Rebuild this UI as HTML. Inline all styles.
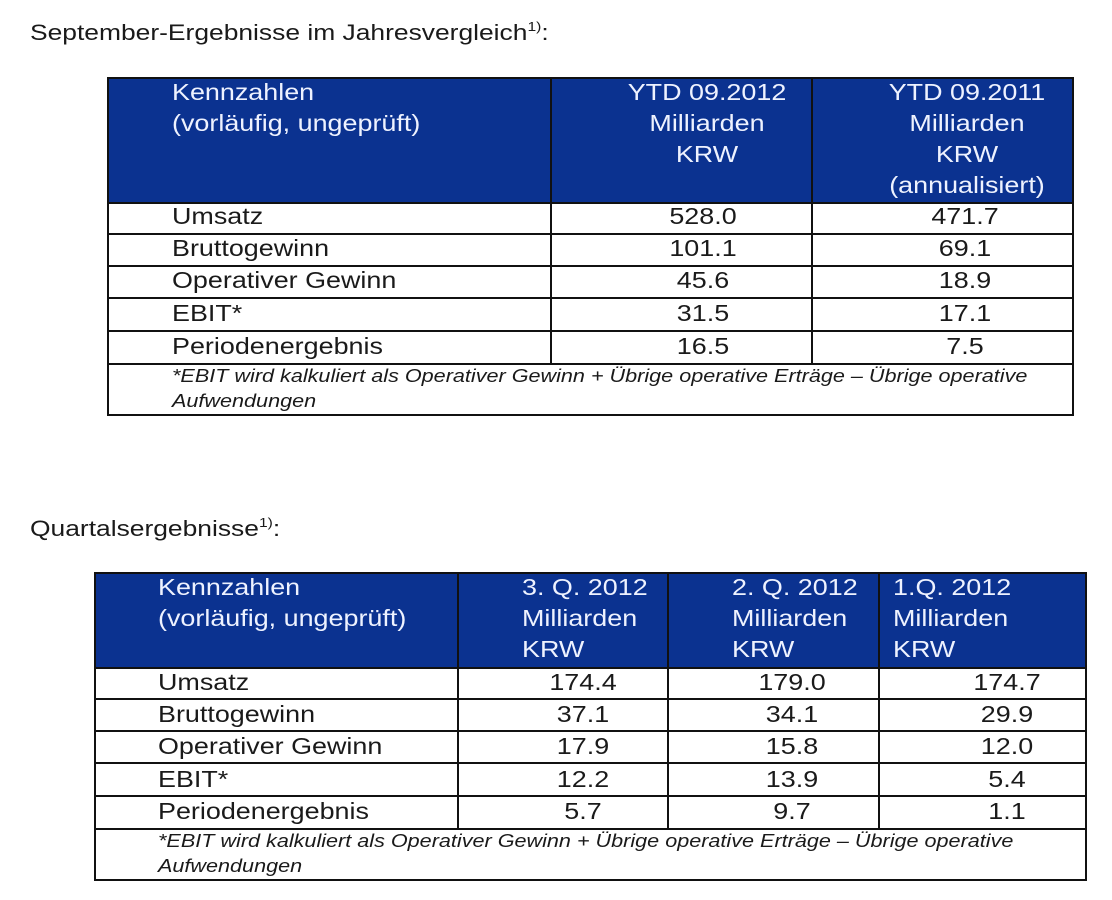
<!DOCTYPE html>
<html><head><meta charset="utf-8"><style>
body{margin:0;width:1112px;height:900px;background:#fff;position:relative;overflow:hidden;font-family:"Liberation Sans",Arial,sans-serif;color:#1a1a1a}
.t{position:absolute;white-space:nowrap;font-size:23px;line-height:31px;transform:scaleX(1.17);transform-origin:0 0}
.w{color:#eef2ff}
.c{text-align:center;transform-origin:50% 0}
.i{font-style:italic;font-size:18px;line-height:25px;transform:scaleX(1.2)}
.hdr{position:absolute;background:#0b3290}
.l{position:absolute;background:#111}
sup{font-size:13px;vertical-align:9px}
</style></head><body>
<div class="t" style="left:30px;top:11px;font-size:22px;transform:scaleX(1.2)">September-Ergebnisse im Jahresvergleich<sup>1)</sup>:</div>

<!-- table 1 -->
<div class="hdr" style="left:107px;top:77px;width:967px;height:126px"></div>
<div class="l" style="left:107px;top:77px;width:967px;height:2px"></div>
<div class="l" style="left:107px;top:77px;width:2px;height:339px"></div>
<div class="l" style="left:1072px;top:77px;width:2px;height:339px"></div>
<div class="l" style="left:107px;top:414px;width:967px;height:2px"></div>
<div class="l" style="left:550px;top:77px;width:2px;height:288px"></div>
<div class="l" style="left:811px;top:77px;width:2px;height:288px"></div>
<div class="l" style="left:107px;top:202px;width:967px;height:2px"></div>
<div class="l" style="left:107px;top:233px;width:967px;height:2px"></div>
<div class="l" style="left:107px;top:265px;width:967px;height:2px"></div>
<div class="l" style="left:107px;top:297px;width:967px;height:2px"></div>
<div class="l" style="left:107px;top:330px;width:967px;height:2px"></div>
<div class="l" style="left:107px;top:363px;width:967px;height:2px"></div>
<div class="t w" style="left:172px;top:77px">Kennzahlen<br>(vorläufig, ungeprüft)</div>
<div class="t w c" style="left:602px;top:77px;width:210px">YTD 09.2012<br>Milliarden<br>KRW</div>
<div class="t w c" style="left:862px;top:77px;width:210px">YTD 09.2011<br>Milliarden<br>KRW<br>(annualisiert)</div>
<div class="t" style="left:172px;top:201px">Umsatz</div>
<div class="t" style="left:172px;top:233px">Bruttogewinn</div>
<div class="t" style="left:172px;top:265px">Operativer Gewinn</div>
<div class="t" style="left:172px;top:298px">EBIT*</div>
<div class="t" style="left:172px;top:331px">Periodenergebnis</div>
<div class="t c" style="left:603px;top:201px;width:200px">528.0</div>
<div class="t c" style="left:603px;top:233px;width:200px">101.1</div>
<div class="t c" style="left:603px;top:265px;width:200px">45.6</div>
<div class="t c" style="left:603px;top:298px;width:200px">31.5</div>
<div class="t c" style="left:603px;top:331px;width:200px">16.5</div>
<div class="t c" style="left:865px;top:201px;width:200px">471.7</div>
<div class="t c" style="left:865px;top:233px;width:200px">69.1</div>
<div class="t c" style="left:865px;top:265px;width:200px">18.9</div>
<div class="t c" style="left:865px;top:298px;width:200px">17.1</div>
<div class="t c" style="left:865px;top:331px;width:200px">7.5</div>
<div class="t i" style="left:172px;top:364px">*EBIT wird kalkuliert als Operativer Gewinn + Übrige operative Erträge – Übrige operative<br>Aufwendungen</div>

<div class="t" style="left:30px;top:507px;font-size:22px;transform:scaleX(1.2)">Quartalsergebnisse<sup>1)</sup>:</div>

<!-- table 2 -->
<div class="hdr" style="left:94px;top:573px;width:993px;height:95px"></div>
<div class="l" style="left:94px;top:572px;width:993px;height:2px"></div>
<div class="l" style="left:94px;top:572px;width:2px;height:309px"></div>
<div class="l" style="left:1085px;top:572px;width:2px;height:309px"></div>
<div class="l" style="left:94px;top:879px;width:993px;height:2px"></div>
<div class="l" style="left:457px;top:572px;width:2px;height:258px"></div>
<div class="l" style="left:667px;top:572px;width:2px;height:258px"></div>
<div class="l" style="left:878px;top:572px;width:2px;height:258px"></div>
<div class="l" style="left:94px;top:667px;width:993px;height:2px"></div>
<div class="l" style="left:94px;top:698px;width:993px;height:2px"></div>
<div class="l" style="left:94px;top:730px;width:993px;height:2px"></div>
<div class="l" style="left:94px;top:762px;width:993px;height:2px"></div>
<div class="l" style="left:94px;top:795px;width:993px;height:2px"></div>
<div class="l" style="left:94px;top:828px;width:993px;height:2px"></div>
<div class="t w" style="left:158px;top:572px">Kennzahlen<br>(vorläufig, ungeprüft)</div>
<div class="t w" style="left:522px;top:572px">3. Q. 2012<br>Milliarden<br>KRW</div>
<div class="t w" style="left:732px;top:572px">2. Q. 2012<br>Milliarden<br>KRW</div>
<div class="t w" style="left:893px;top:572px">1.Q. 2012<br>Milliarden<br>KRW</div>
<div class="t" style="left:158px;top:667px">Umsatz</div>
<div class="t" style="left:158px;top:699px">Bruttogewinn</div>
<div class="t" style="left:158px;top:731px">Operativer Gewinn</div>
<div class="t" style="left:158px;top:764px">EBIT*</div>
<div class="t" style="left:158px;top:796px">Periodenergebnis</div>
<div class="t c" style="left:533px;top:667px;width:100px">174.4</div>
<div class="t c" style="left:533px;top:699px;width:100px">37.1</div>
<div class="t c" style="left:533px;top:731px;width:100px">17.9</div>
<div class="t c" style="left:533px;top:764px;width:100px">12.2</div>
<div class="t c" style="left:533px;top:796px;width:100px">5.7</div>
<div class="t c" style="left:742px;top:667px;width:100px">179.0</div>
<div class="t c" style="left:742px;top:699px;width:100px">34.1</div>
<div class="t c" style="left:742px;top:731px;width:100px">15.8</div>
<div class="t c" style="left:742px;top:764px;width:100px">13.9</div>
<div class="t c" style="left:742px;top:796px;width:100px">9.7</div>
<div class="t c" style="left:957px;top:667px;width:100px">174.7</div>
<div class="t c" style="left:957px;top:699px;width:100px">29.9</div>
<div class="t c" style="left:957px;top:731px;width:100px">12.0</div>
<div class="t c" style="left:957px;top:764px;width:100px">5.4</div>
<div class="t c" style="left:957px;top:796px;width:100px">1.1</div>
<div class="t i" style="left:158px;top:829px">*EBIT wird kalkuliert als Operativer Gewinn + Übrige operative Erträge – Übrige operative<br>Aufwendungen</div>
</body></html>
